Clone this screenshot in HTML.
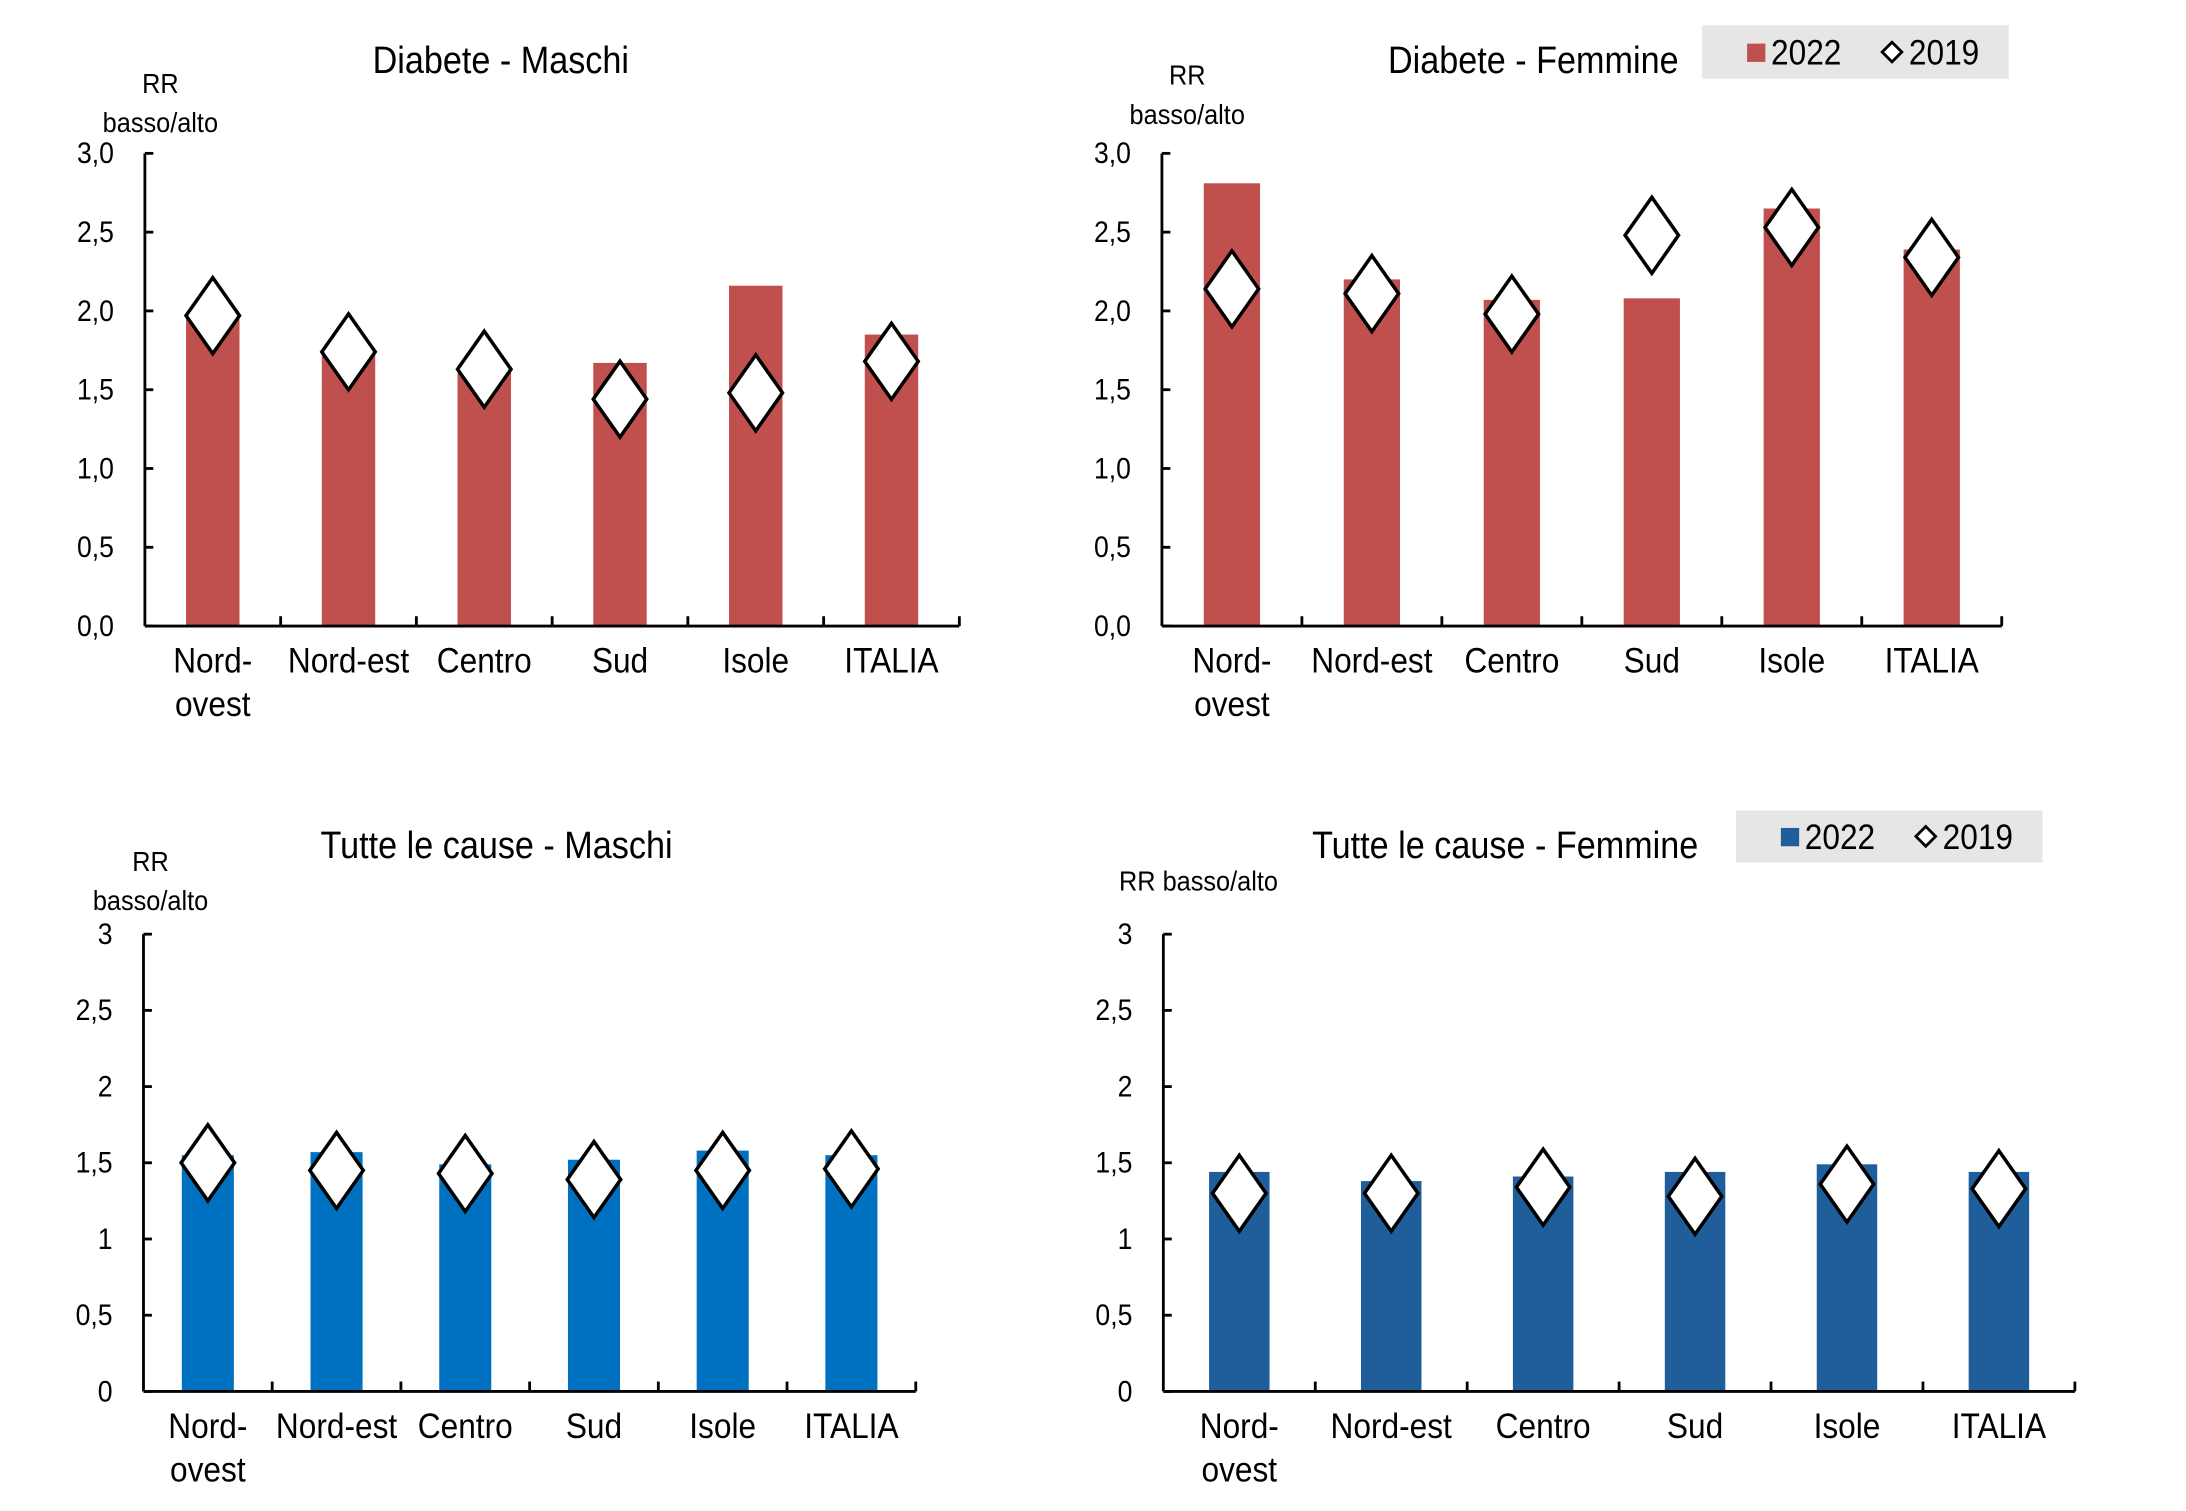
<!DOCTYPE html>
<html><head><meta charset="utf-8">
<style>
html,body{margin:0;padding:0;background:#fff;}
svg{display:block;}
text{font-family:"Liberation Sans Narrow","Liberation Sans",sans-serif;fill:#000;}
</style></head>
<body>
<svg id="chart" width="2186" height="1511" viewBox="0 0 1554 1074" preserveAspectRatio="none" xmlns="http://www.w3.org/2000/svg"></svg>
<script>
const categories = ["Nord-|ovest","Nord-est","Centro","Sud","Isole","ITALIA"];
const dmBars = [1.95, 1.75, 1.63, 1.67, 2.16, 1.85];
const dmDiamonds = [1.97, 1.74, 1.63, 1.44, 1.48, 1.68];
const dfBars = [2.81, 2.20, 2.07, 2.08, 2.65, 2.39];
const dfDiamonds = [2.14, 2.11, 1.98, 2.48, 2.53, 2.34];
const tmBars = [1.55, 1.57, 1.49, 1.52, 1.58, 1.55];
const tmDiamonds = [1.50, 1.45, 1.43, 1.39, 1.45, 1.46];
const tfBars = [1.44, 1.38, 1.41, 1.44, 1.49, 1.44];
const tfDiamonds = [1.30, 1.30, 1.34, 1.28, 1.36, 1.33];
const ticksComma = ["0,0","0,5","1,0","1,5","2,0","2,5","3,0"];
const ticksPlain = ["0","0,5","1","1,5","2","2,5","3"];
const tickValues = [0,0.5,1,1.5,2,2.5,3];

const NS="http://www.w3.org/2000/svg";
const svg=document.getElementById('chart');
const SX=0.9;
function mk(tag,attrs,parent){const e=document.createElementNS(NS,tag);for(const k in attrs)e.setAttribute(k,attrs[k]);(parent||svg).appendChild(e);return e;}
function txt(str,x,y,size,anchor,parent){
  const e=mk('text',{x:x/SX,y:y,'font-size':size,'text-anchor':anchor||'start',transform:`scale(${SX},1)`},parent);
  e.textContent=str;return e;}

const panels=[
 {id:'diabete-maschi',title:'Diabete - Maschi',tx:356,ty:52,x0:103,x1:682,yTop:109,yBot:445,bars:dmBars,dia:dmDiamonds,ticks:ticksComma,color:'#C0504D',bw:38,
  ylab:[['RR',114,66],['basso/alto',114,94]],legend:null},
 {id:'diabete-femmine',title:'Diabete - Femmine',tx:1090,ty:52,x0:826,x1:1423,yTop:109,yBot:445,bars:dfBars,dia:dfDiamonds,ticks:ticksComma,color:'#C0504D',bw:40,
  ylab:[['RR',844,60],['basso/alto',844,88]],legend:{x:1210,y:18,w:218,h:38}},
 {id:'tutte-maschi',title:'Tutte le cause - Maschi',tx:353,ty:610,x0:102,x1:651,yTop:664,yBot:989,bars:tmBars,dia:tmDiamonds,ticks:ticksPlain,color:'#0070C0',bw:37,
  ylab:[['RR',107,619],['basso/alto',107,647]],legend:null},
 {id:'tutte-femmine',title:'Tutte le cause - Femmine',tx:1070,ty:610,x0:827,x1:1475,yTop:664,yBot:989,bars:tfBars,dia:tfDiamonds,ticks:ticksPlain,color:'#1F5E9B',bw:43,
  ylab:[['RR basso/alto',852,633]],legend:{x:1234,y:576,w:218,h:37}}
];

panels.forEach(p=>{
  const g=mk('g',{});
  
  
  const n=categories.length, step=(p.x1-p.x0)/n;
  const xc=i=>p.x0+step*(i+0.5);
  const yv=v=>p.yBot-(v/3)*(p.yBot-p.yTop);
  const t=txt(p.title,p.tx,p.ty,27,'middle',g);
  
  
  p.ylab.forEach(l=>{const e=txt(l[0],l[1],l[2],20,'middle',g);
    
    });
  p.bars.forEach((v,i)=>{const r=mk('rect',{x:xc(i)-p.bw/2,y:yv(v),width:p.bw,height:p.yBot-yv(v),fill:p.color},g);
    
    });
  mk('line',{x1:p.x0,y1:p.yTop,x2:p.x0,y2:p.yBot,stroke:'#000','stroke-width':2},g);
  mk('line',{x1:p.x0,y1:p.yBot,x2:p.x1,y2:p.yBot,stroke:'#000','stroke-width':2},g);
  tickValues.forEach((tv,i)=>{const y=yv(tv);
    mk('line',{x1:p.x0,y1:y,x2:p.x0+6,y2:y,stroke:'#000','stroke-width':2},g);
    const e=txt(p.ticks[i],p.x0-22,y+7,21,'end',g);
    
    });
  for(let i=1;i<=n;i++){const x=p.x0+step*i;mk('line',{x1:x,y1:p.yBot,x2:x,y2:p.yBot-7,stroke:'#000','stroke-width':2},g);}
  categories.forEach((c,i)=>{const parts=c.split('|');
    parts.forEach((pt,j)=>{const e=txt(pt,xc(i),p.yBot+33+j*31,25,'middle',g);
      
      });});
  p.dia.forEach((v,i)=>{const x=xc(i),y=yv(v),w=19,h=27;
    const d=mk('polygon',{points:`${x},${y-h} ${x+w},${y} ${x},${y+h} ${x-w},${y}`,fill:'#fff',stroke:'#000','stroke-width':2.5},g);
    
    });
  if(p.legend){const L=p.legend;
    const lg=mk('g',{},g);
    
    
    mk('rect',{x:L.x,y:L.y,width:L.w,height:L.h,fill:'#E6E6E6'},lg);
    const cy=L.y+L.h/2;
    mk('rect',{x:L.x+32,y:cy-6,width:13,height:13,fill:p.color},lg);
    const a=txt('2022',L.x+49,cy+9,25,'start',lg);
    
    
    mk('polygon',{points:`${L.x+135},${cy-7} ${L.x+142},${cy} ${L.x+135},${cy+7} ${L.x+128},${cy}`,fill:'#fff',stroke:'#000','stroke-width':2},lg);
    const b=txt('2019',L.x+147,cy+9,25,'start',lg);
    
    
  }
});
</script>
</body></html>
